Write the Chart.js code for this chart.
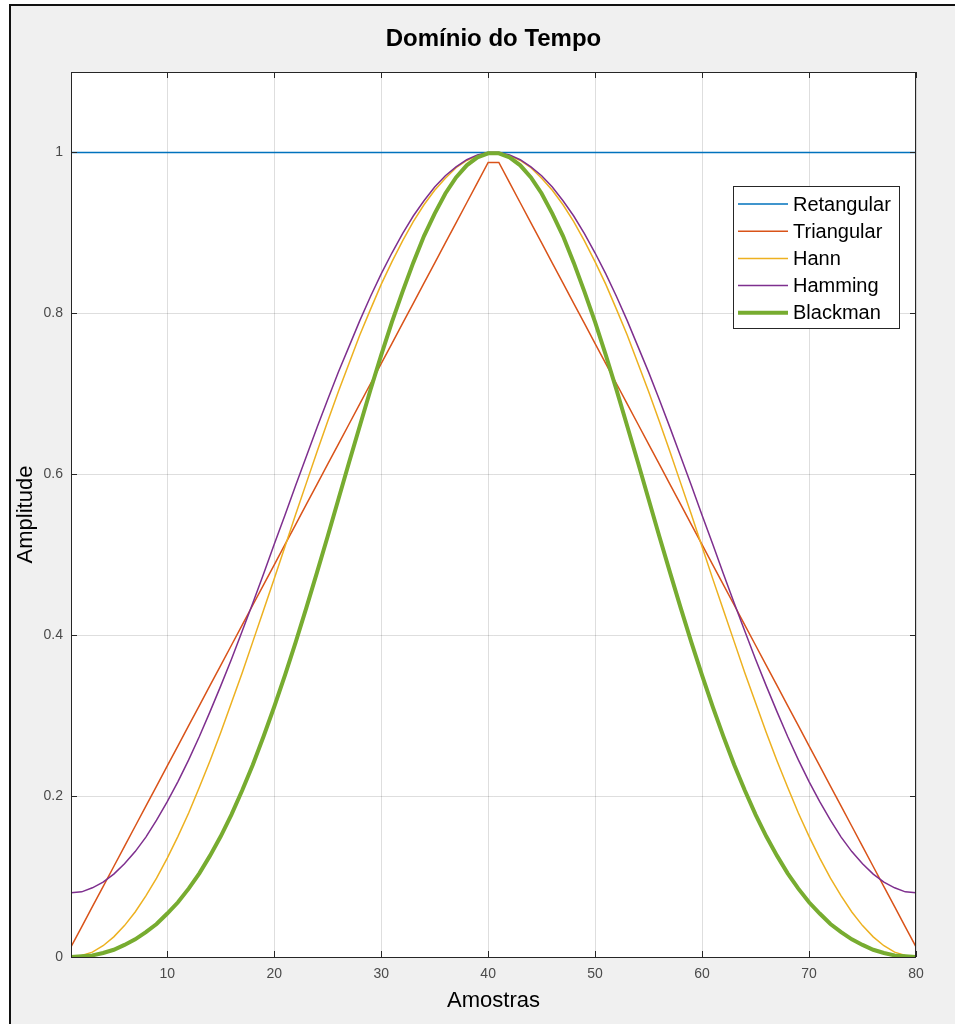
<!DOCTYPE html>
<html>
<head>
<meta charset="utf-8">
<script src="https://cdn.jsdelivr.net/npm/chart.js@4"></script>
<style>
  html, body { margin: 0; padding: 0; background: #fff; }
  #frame {
    position: absolute; left: 9px; top: 4px; width: 946px; height: 1020px;
    background: #f0f0f0; border-left: 2px solid #111; border-top: 2px solid #111;
    box-sizing: border-box;
  }
  #windowChart { position: absolute; left: 0; top: 0; }
</style>
</head>
<body>
<div id="frame"></div>
<canvas id="windowChart" width="955" height="1024"></canvas>
<script>
// sample index 1..80
const samples = Array.from({ length: 80 }, (_, i) => i + 1);

const xTicks = [10, 20, 30, 40, 50, 60, 70, 80];
const yTicks = [0, 0.2, 0.4, 0.6, 0.8, 1];

const seriesNames = ["Retangular", "Triangular", "Hann", "Hamming", "Blackman"];

const retangular = [
  1, 1, 1, 1, 1, 1, 1, 1, 1, 1, 1, 1, 1, 1, 1, 1, 1, 1, 1, 1,
  1, 1, 1, 1, 1, 1, 1, 1, 1, 1, 1, 1, 1, 1, 1, 1, 1, 1, 1, 1,
  1, 1, 1, 1, 1, 1, 1, 1, 1, 1, 1, 1, 1, 1, 1, 1, 1, 1, 1, 1,
  1, 1, 1, 1, 1, 1, 1, 1, 1, 1, 1, 1, 1, 1, 1, 1, 1, 1, 1, 1,
];

const triangular = [
  0.0125, 0.0375, 0.0625, 0.0875, 0.1125, 0.1375, 0.1625, 0.1875, 0.2125, 0.2375,
  0.2625, 0.2875, 0.3125, 0.3375, 0.3625, 0.3875, 0.4125, 0.4375, 0.4625, 0.4875,
  0.5125, 0.5375, 0.5625, 0.5875, 0.6125, 0.6375, 0.6625, 0.6875, 0.7125, 0.7375,
  0.7625, 0.7875, 0.8125, 0.8375, 0.8625, 0.8875, 0.9125, 0.9375, 0.9625, 0.9875,
  0.9875, 0.9625, 0.9375, 0.9125, 0.8875, 0.8625, 0.8375, 0.8125, 0.7875, 0.7625,
  0.7375, 0.7125, 0.6875, 0.6625, 0.6375, 0.6125, 0.5875, 0.5625, 0.5375, 0.5125,
  0.4875, 0.4625, 0.4375, 0.4125, 0.3875, 0.3625, 0.3375, 0.3125, 0.2875, 0.2625,
  0.2375, 0.2125, 0.1875, 0.1625, 0.1375, 0.1125, 0.0875, 0.0625, 0.0375, 0.0125,
];

const hann = [
  0.000, 0.002, 0.006, 0.014, 0.025, 0.039, 0.056, 0.076, 0.098, 0.123,
  0.150, 0.179, 0.211, 0.244, 0.279, 0.316, 0.353, 0.392, 0.431, 0.470,
  0.510, 0.550, 0.589, 0.628, 0.666, 0.703, 0.738, 0.773, 0.805, 0.836,
  0.864, 0.890, 0.914, 0.935, 0.953, 0.968, 0.981, 0.990, 0.996, 1.000,
  1.000, 0.996, 0.990, 0.981, 0.968, 0.953, 0.935, 0.914, 0.890, 0.864,
  0.836, 0.805, 0.773, 0.738, 0.703, 0.666, 0.628, 0.589, 0.550, 0.510,
  0.470, 0.431, 0.392, 0.353, 0.316, 0.279, 0.244, 0.211, 0.179, 0.150,
  0.123, 0.098, 0.076, 0.056, 0.039, 0.025, 0.014, 0.006, 0.002, 0.000,
];

const hamming = [
  0.080, 0.081, 0.086, 0.093, 0.103, 0.116, 0.131, 0.149, 0.170, 0.193,
  0.218, 0.245, 0.274, 0.305, 0.337, 0.370, 0.405, 0.440, 0.476, 0.513,
  0.549, 0.586, 0.622, 0.658, 0.693, 0.727, 0.759, 0.791, 0.821, 0.849,
  0.875, 0.899, 0.921, 0.940, 0.957, 0.971, 0.982, 0.991, 0.997, 1.000,
  1.000, 0.997, 0.991, 0.982, 0.971, 0.957, 0.940, 0.921, 0.899, 0.875,
  0.849, 0.821, 0.791, 0.759, 0.727, 0.693, 0.658, 0.622, 0.586, 0.549,
  0.513, 0.476, 0.440, 0.405, 0.370, 0.337, 0.305, 0.274, 0.245, 0.218,
  0.193, 0.170, 0.149, 0.131, 0.116, 0.103, 0.093, 0.086, 0.081, 0.080,
];

const blackman = [
  0.000, 0.001, 0.002, 0.005, 0.009, 0.015, 0.022, 0.031, 0.041, 0.054,
  0.068, 0.085, 0.104, 0.126, 0.150, 0.177, 0.207, 0.239, 0.274, 0.311,
  0.350, 0.391, 0.434, 0.478, 0.523, 0.569, 0.615, 0.660, 0.705, 0.748,
  0.789, 0.827, 0.863, 0.896, 0.924, 0.949, 0.969, 0.984, 0.994, 0.999,
  0.999, 0.994, 0.984, 0.969, 0.949, 0.924, 0.896, 0.863, 0.827, 0.789,
  0.748, 0.705, 0.660, 0.615, 0.569, 0.523, 0.478, 0.434, 0.391, 0.350,
  0.311, 0.274, 0.239, 0.207, 0.177, 0.150, 0.126, 0.104, 0.085, 0.068,
  0.054, 0.041, 0.031, 0.022, 0.015, 0.009, 0.005, 0.002, 0.001, 0.000,
];

const seriesValues = [retangular, triangular, hann, hamming, blackman];
const seriesColors = ["#0072bd", "#d95319", "#edb120", "#7e2f8e", "#77ac30"];
const seriesWidths = [1.5, 1.5, 1.5, 1.5, 4];

const FONT = "'Liberation Sans', Arial, sans-serif";
const AXIS_COLOR = "#262626";

// MATLAB-like axes: white background, box, inward ticks, title, legend
const matlabAxes = {
  id: "matlabAxes",
  beforeDraw(chart) {
    const { ctx, chartArea: a } = chart;
    ctx.save();
    ctx.fillStyle = "#ffffff";
    ctx.fillRect(a.left, a.top, a.right - a.left, a.bottom - a.top);
    ctx.restore();
  },
  afterDatasetsDraw(chart) {
    const { ctx, chartArea: a, scales } = chart;
    ctx.save();

    // box
    ctx.strokeStyle = AXIS_COLOR;
    ctx.lineWidth = 1;
    ctx.strokeRect(a.left + 0.5, a.top + 0.5, a.right - a.left - 1, a.bottom - a.top);

    // inward ticks
    const tl = 6;
    ctx.beginPath();
    xTicks.forEach((v) => {
      const px = Math.round(scales.x.getPixelForValue(v)) + 0.5;
      ctx.moveTo(px, a.bottom);
      ctx.lineTo(px, a.bottom - tl);
      ctx.moveTo(px, a.top);
      ctx.lineTo(px, a.top + tl);
    });
    yTicks.forEach((v) => {
      const py = Math.round(scales.y.getPixelForValue(v)) + 0.5;
      ctx.moveTo(a.left, py);
      ctx.lineTo(a.left + tl, py);
      ctx.moveTo(a.right, py);
      ctx.lineTo(a.right - tl, py);
    });
    ctx.stroke();

    // title
    ctx.fillStyle = "#000";
    ctx.font = "bold 24px " + FONT;
    ctx.textAlign = "center";
    ctx.textBaseline = "middle";
    ctx.fillText("Domínio do Tempo", (a.left + a.right) / 2, 39);

    // legend
    const boxL = a.right - 183, boxT = 186, boxW = 166, boxH = 142;
    ctx.fillStyle = "#fff";
    ctx.fillRect(boxL, boxT, boxW, boxH);
    ctx.strokeStyle = AXIS_COLOR;
    ctx.lineWidth = 1;
    ctx.strokeRect(boxL + 0.5, boxT + 0.5, boxW, boxH);
    ctx.font = "20px " + FONT;
    ctx.textAlign = "left";
    chart.data.datasets.forEach((ds, i) => {
      const y = boxT + 18 + i * 27.2;
      ctx.strokeStyle = ds.borderColor;
      ctx.lineWidth = ds.borderWidth;
      ctx.beginPath();
      ctx.moveTo(boxL + 5, y);
      ctx.lineTo(boxL + 55, y);
      ctx.stroke();
      ctx.fillStyle = "#000";
      ctx.fillText(ds.label, boxL + 60, y + 1);
    });

    ctx.restore();
  },
};

const windowChart = new Chart(document.getElementById("windowChart"), {
  type: "line",
  data: {
    labels: samples,
    datasets: seriesNames.map((name, i) => ({
      label: name,
      data: seriesValues[i],
      borderColor: seriesColors[i],
      borderWidth: seriesWidths[i],
      pointRadius: 0,
      tension: 0,
      fill: false,
      order: seriesNames.length - i,
    })),
  },
  options: {
    responsive: false,
    animation: false,
    layout: { padding: { left: 0, right: 39, top: 72, bottom: 0 } },
    plugins: {
      legend: { display: false },
      title: { display: false },
      tooltip: { enabled: false },
    },
    scales: {
      x: {
        type: "linear",
        min: 1,
        max: 80,
        afterBuildTicks: (scale) => {
          scale.ticks = xTicks.map((v) => ({ value: v }));
        },
        afterFit: (scale) => {
          scale.height = 67;
        },
        grid: { color: "rgba(0,0,0,0.13)", drawTicks: false },
        border: { display: false },
        ticks: {
          autoSkip: false,
          maxRotation: 0,
          padding: 9,
          color: "#4a4a4a",
          font: { family: FONT, size: 14 },
        },
        title: {
          display: true,
          text: "Amostras",
          color: "#000",
          font: { family: FONT, size: 22 },
          padding: { top: 0, bottom: 10 },
        },
      },
      y: {
        min: 0,
        max: 1.1,
        afterBuildTicks: (scale) => {
          scale.ticks = yTicks.map((v) => ({ value: v }));
        },
        afterFit: (scale) => {
          scale.width = 71;
        },
        grid: { color: "rgba(0,0,0,0.13)", drawTicks: false },
        border: { display: false },
        ticks: {
          autoSkip: false,
          padding: 8,
          color: "#4a4a4a",
          font: { family: FONT, size: 14 },
          callback: (v) => String(v),
        },
        title: {
          display: true,
          text: "Amplitude",
          color: "#000",
          font: { family: FONT, size: 22 },
          padding: { top: 13, bottom: 0 },
        },
      },
    },
  },
  plugins: [matlabAxes],
});
</script>
</body>
</html>
